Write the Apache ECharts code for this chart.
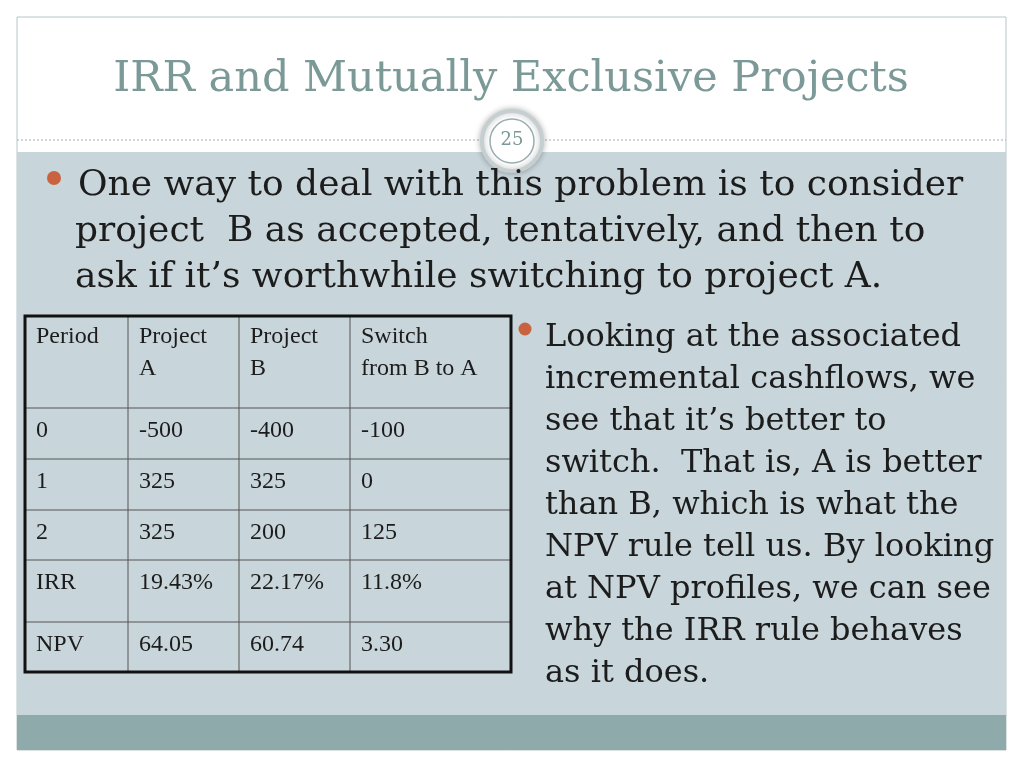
<!DOCTYPE html>
<html><head><meta charset="utf-8">
<script src="https://cdn.jsdelivr.net/npm/echarts@6/dist/echarts.min.js"></script>
<style>html,body{margin:0;padding:0;background:#fff}#main{width:1024px;height:768px}</style>
</head><body><div id="main"></div>
<script>
// slide texts
const titleText = 'IRR and Mutually Exclusive Projects';
const pageNo = '25';
const bulletLines = [
  'One way to deal with this problem is to consider',
  'project  B as accepted, tentatively, and then to',
  'ask if it\u2019s worthwhile switching to project A.'
];
const sideLines = [
  'Looking at the associated', 'incremental cashflows, we', 'see that it\u2019s better to',
  'switch.  That is, A is better', 'than B, which is what the', 'NPV rule tell us. By looking',
  'at NPV profiles, we can see', 'why the IRR rule behaves', 'as it does.'
];
// table
const headers = ['Period', 'Project\nA', 'Project\nB', 'Switch\nfrom B to A'];
const periods = ['0', '1', '2', 'IRR', 'NPV'];
const projectA = ['-500', '325', '325', '19.43%', '64.05'];
const projectB = ['-400', '325', '200', '22.17%', '60.74'];
const switchBA = ['-100', '0', '125', '11.8%', '3.30'];

const colX = [25, 128, 239, 350, 511];
const rowY = [316, 408, 459, 510, 560, 622, 672];

const chart = echarts.init(document.getElementById('main'));
const els = [];
const txt = (text, x, y, size, family, fill, extra) => ({ type: 'text', style: Object.assign({ text, x, y, fontSize: size, fontFamily: family, fill, verticalAlign: 'middle' }, extra || {}) });
// frame and backgrounds
els.push({ type: 'rect', shape: { x: 17, y: 17, width: 989, height: 733 }, style: { fill: '#fff', stroke: '#b9c6c8', lineWidth: 1 } });
els.push({ type: 'rect', shape: { x: 17, y: 152, width: 989, height: 563 }, style: { fill: '#c8d5da' } });
els.push({ type: 'rect', shape: { x: 17, y: 715, width: 989, height: 35 }, style: { fill: '#8eaaab' } });
els.push({ type: 'line', shape: { x1: 17, y1: 140, x2: 1006, y2: 140 }, style: { stroke: '#9fb0b2', lineWidth: 1, lineDash: [2, 2] } });
els.push(txt(titleText, 511, 80, 43, 'DejaVu Serif', '#7b9997', { align: 'center' }));
// page number circle
els.push({ type: 'circle', shape: { cx: 512, cy: 141, r: 30 }, style: { fill: '#fff', stroke: '#c5cfd2', lineWidth: 4, shadowBlur: 6, shadowColor: 'rgba(0,0,0,0.25)' } });
els.push({ type: 'circle', shape: { cx: 512, cy: 141, r: 22 }, style: { fill: '#fff', stroke: '#9aaeb0', lineWidth: 1.5 } });
els.push(txt(pageNo, 512, 140, 18, 'DejaVu Serif', '#7b9997', { align: 'center' }));
// bullet text
els.push({ type: 'circle', shape: { cx: 54, cy: 178, r: 7 }, style: { fill: '#c9633f' } });
bulletLines.forEach((t, i) => els.push(txt(t, i ? 75 : 78, 186 + i * 46, 36, 'DejaVu Serif', '#1c1c1c')));
els.push({ type: 'circle', shape: { cx: 525, cy: 329, r: 6.5 }, style: { fill: '#c9633f' } });
sideLines.forEach((t, i) => els.push(txt(t, 545, 338 + i * 42, 32, 'DejaVu Serif', '#1c1c1c')));
// table
const cols = [periods, projectA, projectB, switchBA];
const tf = 'Liberation Serif';
headers.forEach((h, c) => h.split('\n').forEach((line, k) => els.push(txt(line, colX[c] + 11, 337 + k * 32, 24, tf, '#1c1c1c'))));
cols.forEach((col, c) => col.forEach((v, r) => els.push(txt(v, colX[c] + 11, rowY[r + 1] + 23, 24, tf, '#1c1c1c'))));
rowY.slice(1, -1).forEach(y => els.push({ type: 'line', shape: { x1: 25, y1: y, x2: 511, y2: y }, style: { stroke: '#555', lineWidth: 1 } }));
colX.slice(1, -1).forEach(x => els.push({ type: 'line', shape: { x1: x, y1: 316, x2: x, y2: 672 }, style: { stroke: '#555', lineWidth: 1 } }));
els.push({ type: 'rect', shape: { x: 25, y: 316, width: 486, height: 356 }, style: { fill: 'none', stroke: '#111', lineWidth: 3 } });

chart.setOption({ animation: false, graphic: { elements: els } });
</script></body></html>
